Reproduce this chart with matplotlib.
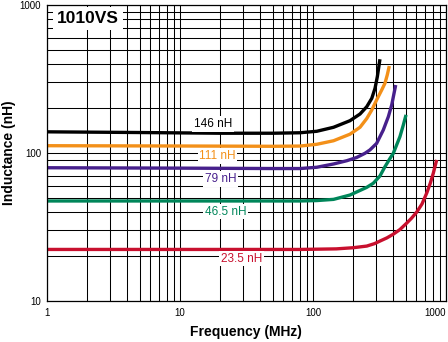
import matplotlib
matplotlib.use("Agg")
import matplotlib.pyplot as plt
from matplotlib.ticker import FixedLocator, NullFormatter

plt.rcParams['font.family'] = ['Liberation Sans', 'DejaVu Sans']

# values (frequency in MHz, inductance in nH)
freq_146 = [1, 5, 20, 50, 80, 107, 143, 190, 226, 254, 277, 293, 305, 319]
ind_146 = [139, 137.5, 136, 136, 137, 140.2, 149.2, 165.3, 183.4, 205.5, 234, 273.5, 328, 430]

freq_111 = [1, 10, 50, 80, 107, 143, 190, 226, 254, 277, 301, 329, 348, 362, 375]
ind_111 = [112, 111.5, 111, 111.4, 114.5, 121, 134, 149.2, 171, 195.2, 228, 266.6, 296, 336.5, 387]

freq_79 = [1, 10, 50, 80, 107, 143, 180, 213, 246, 268, 301, 338, 369, 391, 419]
ind_79 = [79.5, 79, 78.5, 78.5, 80.1, 84.3, 88.7, 93.2, 99.5, 104.8, 116, 143, 176, 211, 288]

freq_46 = [1, 10, 80, 107, 143, 190, 254, 284, 319, 348, 380, 402, 451, 478, 501]
ind_46 = [47.4, 47.4, 47.4, 47.7, 48.6, 52, 58.6, 62.4, 69.9, 80.8, 92, 99.5, 129, 154.5, 181]

freq_23 = [1, 10, 80, 150, 200, 254, 290, 319, 360, 400, 451, 500, 550, 602, 660, 716, 760, 803, 851]
ind_23 = [22.3, 22.3, 22.3, 22.5, 22.9, 23.5, 24.4, 25.4, 26.7, 28.2, 30.4, 33.2, 36.2, 39.8, 45.2, 53.5, 62, 73, 89.8]

labels = ["146 nH", "111 nH", "79 nH", "46.5 nH", "23.5 nH"]
colors = ["#000000", "#f39019", "#47208c", "#00865a", "#c8102e"]

x_ticks = [1, 10, 100, 1000]
x_tick_labels = ["1", "10", "100", "1000"]
y_ticks = [10, 100, 1000]
y_tick_labels = ["10", "100", "1000"]

fig = plt.figure(figsize=(4.48, 3.42), dpi=100)
ax = fig.add_axes([0.1042, 0.1199, 0.8913, 0.8655])

ax.set_xscale("log")
ax.set_yscale("log")
ax.set_xlim(1, 1000)
ax.set_ylim(10, 1000)

# full grid on every decade sub-division
ax.grid(True, which="both", color="black", linewidth=0.75)
ax.set_axisbelow(True)

series = [(freq_146, ind_146), (freq_111, ind_111), (freq_79, ind_79),
          (freq_46, ind_46), (freq_23, ind_23)]
for (f, l), c in zip(series, colors):
    ax.plot(f, l, color=c, linewidth=2.4, solid_capstyle="butt",
            solid_joinstyle="round", zorder=3)

# curve labels (position in data coords)
label_pos = [(17.7, 157), (19.2, 95.5), (20.3, 66.7), (22.2, 40.1), (29.2, 19.3)]
for (x, y), text, c in zip(label_pos, labels, colors):
    ax.text(x, y, text, color=c, fontsize=8.5, ha="center", va="center",
            zorder=4, bbox=dict(facecolor="white", edgecolor="none", pad=1.2))

ax.text(0.104, 0.955, "1010VS", transform=ax.transAxes, fontsize=12.5,
        fontweight="bold", ha="center", va="center", zorder=4,
        bbox=dict(facecolor="white", edgecolor="none", pad=3))

ax.xaxis.set_major_locator(FixedLocator(x_ticks))
ax.yaxis.set_major_locator(FixedLocator(y_ticks))
ax.xaxis.set_minor_formatter(NullFormatter())
ax.yaxis.set_minor_formatter(NullFormatter())
ax.set_xticklabels(x_tick_labels, fontsize=7)
ax.set_yticklabels(y_tick_labels, fontsize=7)
ax.get_xticklabels()[-1].set_horizontalalignment("right")
ax.tick_params(which="both", length=0)
ax.tick_params(axis="x", pad=5)
ax.tick_params(axis="y", pad=4)

for spine in ax.spines.values():
    spine.set_linewidth(0.9)
    spine.set_zorder(5)

ax.set_xlabel("Frequency (MHz)", fontsize=10, fontweight="bold", labelpad=5)
ax.set_ylabel("Inductance (nH)", fontsize=10, fontweight="bold")
ax.yaxis.set_label_coords(-0.078, 0.5)

fig.savefig("out.png", dpi=100)
